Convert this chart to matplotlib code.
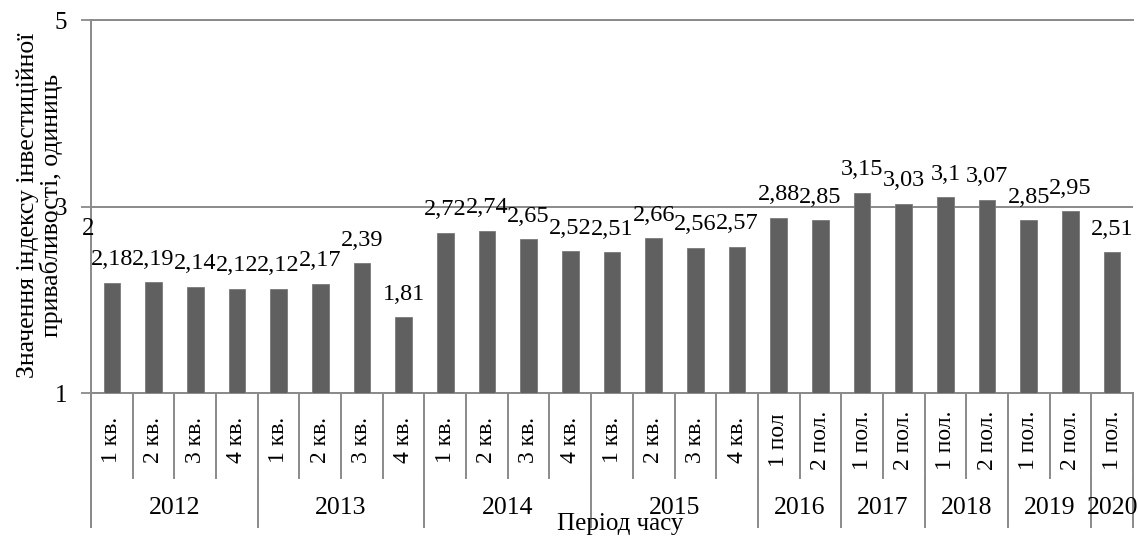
import matplotlib
matplotlib.use("Agg")
import matplotlib.pyplot as plt
from matplotlib.transforms import blended_transform_factory

plt.rcParams['font.family'] = ['Liberation Serif', 'DejaVu Serif']

# data
years = ["2012", "2013", "2014", "2015", "2016", "2017", "2018", "2019", "2020"]
periods_per_year = [4, 4, 4, 4, 2, 2, 2, 2, 1]
periods = ["1 кв.", "2 кв.", "3 кв.", "4 кв.",
           "1 кв.", "2 кв.", "3 кв.", "4 кв.",
           "1 кв.", "2 кв.", "3 кв.", "4 кв.",
           "1 кв.", "2 кв.", "3 кв.", "4 кв.",
           "1 пол", "2 пол.", "1 пол.", "2 пол.", "1 пол.", "2 пол.",
           "1 пол.", "2 пол.", "1 пол."]
values = [2.18, 2.19, 2.14, 2.12, 2.12, 2.17, 2.39, 1.81,
          2.72, 2.74, 2.65, 2.52, 2.51, 2.66, 2.56, 2.57,
          2.88, 2.85, 3.15, 3.03, 3.1, 3.07, 2.85, 2.95, 2.51]

grey = '#8a8a8a'
bar_col = '#606060'
fs = 17

fig = plt.figure(figsize=(11.38, 5.38), dpi=100)
ax = fig.add_axes([91/1138, (538-393)/538, (1133-91)/1138, (393-20)/538])

x = list(range(len(values)))
heights = [v - 1 for v in values]
ax.bar(x, heights, bottom=1, width=0.4, color=bar_col, edgecolor='#7a7a7a', linewidth=0.6, zorder=3)

for xi, v in zip(x, values):
    ax.annotate(f"{v:g}".replace('.', ','), (xi, v), xytext=(0, 9), textcoords='offset points',
                ha='center', va='bottom', fontsize=fs + 0.5, zorder=4)

ax.set_xlim(-0.5, len(values) - 0.5)
ax.set_ylim(1, 5)
ax.set_yticks([1, 3, 5])
ax.tick_params(axis='y', length=7, width=1.3, color=grey, pad=10, labelsize=fs + 1)
ax.set_xticks([])
ax.grid(axis='y', color=grey, linewidth=1.4, zorder=0)
ax.spines['right'].set_visible(False)
for s in ['left', 'bottom', 'top']:
    ax.spines[s].set_color(grey)
    ax.spines[s].set_linewidth(1.4)

# two-level category axis
tr = blended_transform_factory(ax.transData, ax.transAxes)
row1_bottom = -0.228
row2_bottom = -0.359
for k in range(len(values) + 1):
    ax.plot([k - 0.5, k - 0.5], [0, row1_bottom], color=grey, lw=1.4, transform=tr, clip_on=False)
for xi, lab in zip(x, periods):
    ax.text(xi, -0.126, lab, rotation=90, ha='center', va='center', fontsize=fs, transform=tr)

start = 0
bounds = [0]
for yr, n in zip(years, periods_per_year):
    ax.text(start + (n - 1) / 2, -0.308, yr, ha='center', va='center', fontsize=fs + 1.5, transform=tr)
    start += n
    bounds.append(start)
for b in bounds:
    ax.plot([b - 0.5, b - 0.5], [row1_bottom, row2_bottom], color=grey, lw=1.4, transform=tr, clip_on=False)
ax.plot([-0.5, -0.5], [0, row2_bottom], color=grey, lw=1.4, transform=tr, clip_on=False)

fig.text(40/1138, (538-205)/538, "Значення індексу інвестиційної\nпривабливості, одиниць",
         rotation=90, ha='center', va='center', fontsize=fs + 1.5, linespacing=1.0)
fig.text(88/1138, (538-229)/538, "2", ha='center', va='center', fontsize=fs + 1)
fig.text(620/1138, (538-524)/538, "Період часу", ha='center', va='center', fontsize=fs + 1)

fig.savefig("out.png", dpi=100)
